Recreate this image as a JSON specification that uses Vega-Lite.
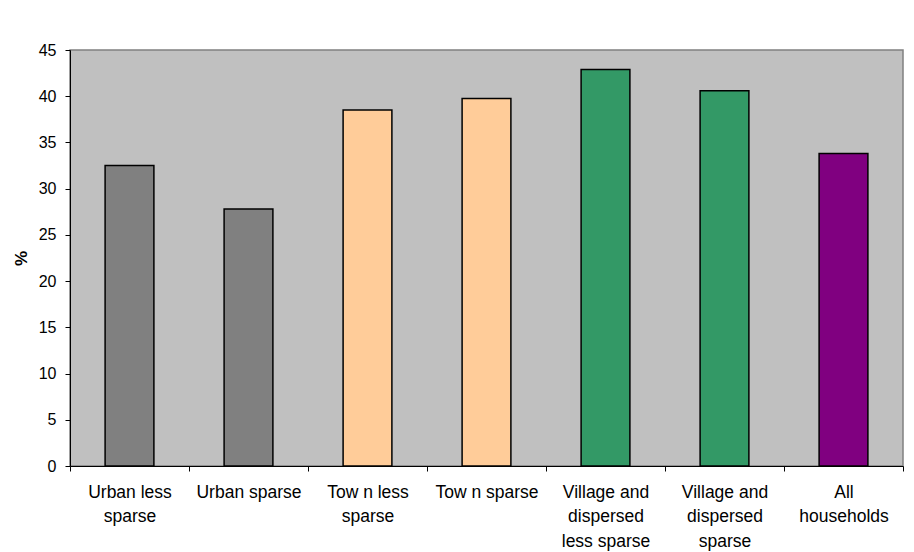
{
  "$schema": "https://vega.github.io/schema/vega-lite/v6.json",
  "width": 833,
  "height": 416,
  "autosize": {"type": "none"},
  "padding": {"left": 70, "top": 50, "right": 11, "bottom": 86},
  "background": "white",
  "data": {
    "values": [
      {"cat": "Urban less|sparse", "value": 32.5, "group": "Urban"},
      {"cat": "Urban sparse", "value": 27.8, "group": "Urban"},
      {"cat": "Tow n less|sparse", "value": 38.5, "group": "Town"},
      {"cat": "Tow n sparse", "value": 39.75, "group": "Town"},
      {"cat": "Village and|dispersed|less sparse", "value": 42.9, "group": "Village"},
      {"cat": "Village and|dispersed|sparse", "value": 40.6, "group": "Village"},
      {"cat": "All|households", "value": 33.8, "group": "All"}
    ]
  },
  "mark": {"type": "bar", "stroke": "black", "strokeWidth": 1.5, "width": {"band": 0.41}},
  "encoding": {
    "x": {
      "field": "cat",
      "type": "nominal",
      "sort": null,
      "scale": {"paddingInner": 0, "paddingOuter": 0},
      "axis": {
        "title": null,
        "labelAngle": 0,
        "labelExpr": "split(datum.label, '|')",
        "tickBand": "extent",
        "labelFont": "Liberation Sans",
        "labelFontSize": 17.5,
        "labelColor": "black",
        "labelLineHeight": 24.5,
        "labelPadding": 12,
        "labelBaseline": "top",
        "tickSize": 5,
        "tickColor": "black",
        "tickWidth": 1,
        "domainColor": "black",
        "domainWidth": 1,
        "grid": false
      }
    },
    "y": {
      "field": "value",
      "type": "quantitative",
      "scale": {"domain": [0, 45], "nice": false},
      "axis": {
        "title": "%",
        "titleFont": "Liberation Sans",
        "titleFontSize": 17,
        "titleFontWeight": "bold",
        "titleColor": "black",
        "titlePadding": 8,
        "values": [0, 5, 10, 15, 20, 25, 30, 35, 40, 45],
        "labelFont": "Liberation Sans",
        "labelFontSize": 16,
        "labelColor": "black",
        "labelPadding": 9,
        "tickSize": 5,
        "tickColor": "black",
        "domainColor": "black",
        "domainWidth": 1,
        "grid": false
      }
    },
    "color": {
      "field": "group",
      "type": "nominal",
      "scale": {
        "domain": ["Urban", "Town", "Village", "All"],
        "range": ["#808080", "#FFCC99", "#339966", "#800080"]
      },
      "legend": null
    }
  },
  "config": {
    "view": {"fill": "#C0C0C0", "stroke": "#808080", "strokeWidth": 1.5}
  }
}
